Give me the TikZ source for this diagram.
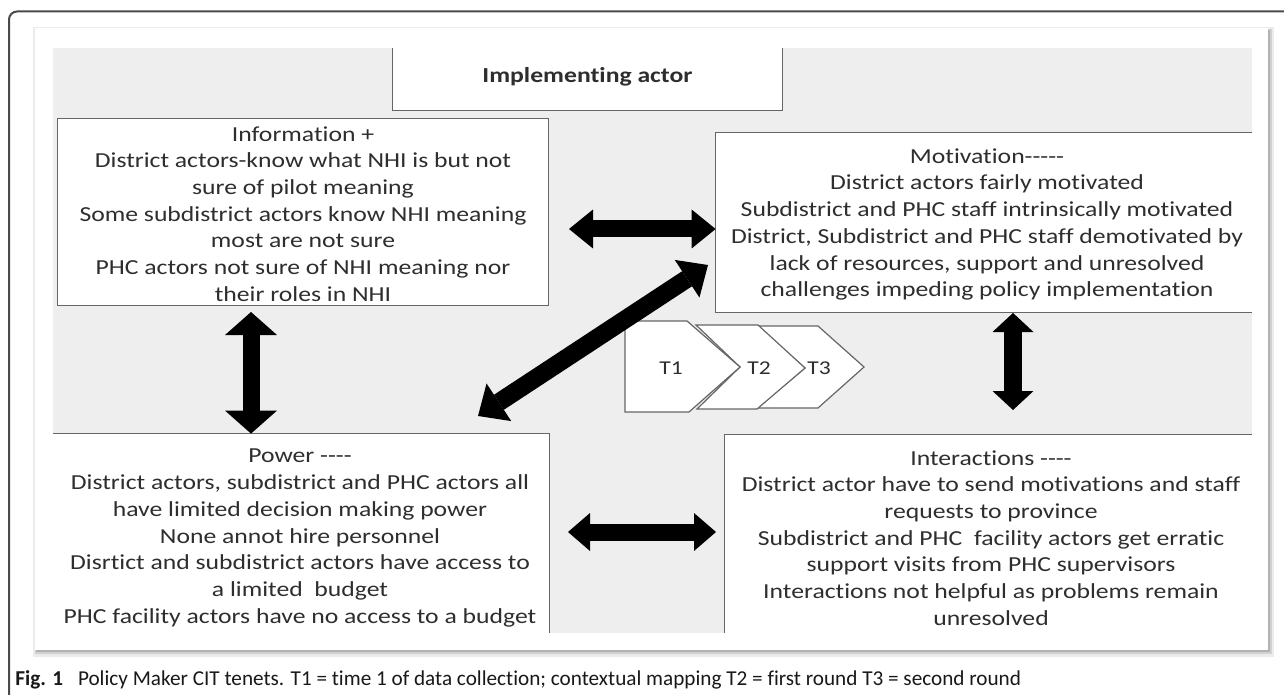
\documentclass[tikz,border=0pt]{standalone}
\usepackage{fontspec}
\setmainfont[Ligatures=NoCommon]{Carlito}
\newfontfamily\boxfont[FakeStretch=1.2,Ligatures=NoCommon]{Carlito}
\usetikzlibrary{arrows.meta}
\newcommand\hh{-\kern0pt}
\definecolor{panelgrey}{HTML}{EEEEEE}
\definecolor{edgecol}{HTML}{666666}
\definecolor{txtcol}{HTML}{2E2E2E}
\definecolor{framecol}{HTML}{4A4A4A}
\tikzset{
  boxtext/.style={font=\boxfont\fontsize{10.7pt}{13.35pt}\selectfont, text=txtcol, align=center, inner sep=0pt},
  boxshape/.style={fill=white, inner sep=0pt},
  edgeline/.style={draw=edgecol, line width=0.8pt},
  chev/.style={draw=edgecol, fill=white, line width=0.6pt, line join=miter},
  chevlabel/.style={font=\boxfont\fontsize{9.8pt}{12pt}\selectfont, text=txtcol, inner sep=0pt},
  dblarrow/.style n args={3}{draw=black, line width=#1,
    {Triangle[width=#2,length=#3,line width=0pt]}-{Triangle[width=#2,length=#3,line width=0pt]}},
}
\begin{document}
\begin{tikzpicture}[x=0.5pt,y=-0.5pt]
\useasboundingbox (0,0) rectangle (1284,695);
\fill[white] (0,0) rectangle (1284,695);
% outer frame
\draw[framecol, line width=1pt, rounded corners=4pt] (9,695) -- (9,11.5) -- (1284,11.5);
% panel with shadow
\fill[black!8] (33,27) rectangle (1274,657);
\fill[black!18] (35,29) rectangle (1272,654);
\fill[black!30] (36,30) rectangle (1270,652);
\fill[white] (35,28) rectangle (1268,650);
% grey area
\fill[panelgrey] (53,48) rectangle (1252,633);
% Implementing actor
\node[boxshape, minimum width=194.5pt, minimum height=31pt] (implbox) at (587.5,79) {};
\draw[edgeline] (implbox.north west) -- (implbox.south west) -- (implbox.south east) -- (implbox.north east);
\node[boxtext] (impl) at (587.5,77) {\bfseries Implementing actor};
% Information
\node[boxshape, minimum width=245pt, minimum height=93pt] (infobox) at (303,212) {};
\draw[edgeline] (infobox.north west) rectangle (infobox.south east);
\node[boxtext] (info) at (303,214)
  {Information +\\District actors-know what NHI is but not\\sure of pilot meaning\\Some subdistrict actors know NHI meaning\\most are not sure\\PHC actors not sure of NHI meaning nor\\their roles in NHI};
% Motivation
\node[boxshape, minimum width=268pt, minimum height=89.5pt] (motivbox) at (984,222.5) {};
\draw[edgeline] (motivbox.north east) -- (motivbox.north west) -- (motivbox.south west) -- (motivbox.south east);
\node[boxtext] (motiv) at (987,224.5)
  {Motivation\hh\hh\hh\hh-\\District actors fairly motivated\\Subdistrict and PHC staff intrinsically motivated\\District, Subdistrict and PHC staff demotivated by\\lack of resources, support and unresolved\\challenges impeding policy implementation};
% Power
\node[boxshape, minimum width=248pt, minimum height=99.5pt] (powerbox) at (301,533.5) {};
\draw[edgeline] (powerbox.north west) -- (powerbox.north east) -- (powerbox.south east);
\node[boxtext] (power) at (300,538)
  {Power \hh\hh\hh-\\District actors, subdistrict and PHC actors all\\have limited decision making power\\None annot hire personnel\\Disrtict and subdistrict actors have access to\\a limited\ \ budget\\PHC facility actors have no access to a budget};
% Interactions
\node[boxshape, minimum width=263.5pt, minimum height=99pt] (interbox) at (988.5,534) {};
\draw[edgeline] (interbox.north east) -- (interbox.north west) -- (interbox.south west);
\node[boxtext] (inter) at (991,538)
  {Interactions \hh\hh\hh-\\District actor have to send motivations and staff\\requests to province\\Subdistrict and PHC\ \ facility actors get erratic\\support visits from PHC supervisors\\Interactions not helpful as problems remain\\unresolved};
% chevrons T3, T2, T1
\draw[chev] (757,326) -- (818,326) -- (864,367) -- (818,408) -- (757,408) -- (805,368) -- cycle;
\draw[chev] (696,325) -- (758,325) -- (805,368) -- (757,409) -- (697,409) -- (740,367) -- cycle;
\draw[chev] (625,321) -- (687,321) -- (740,367) -- (689,412) -- (625,412) -- cycle;
\node[chevlabel] (t1) at (671,368) {T1};
\node[chevlabel] (t2) at (759,368) {T2};
\node[chevlabel] (t3) at (819,368) {T3};
% arrows
\coordinate (ta) at (569,229);
\draw[dblarrow={8.5pt}{19.5pt}{12pt}] (ta) -- (ta -| motivbox.west);
\coordinate (la1) at (251,312);
\draw[dblarrow={8.5pt}{26pt}{11.5pt}] (la1) -- (la1 |- powerbox.north);
\coordinate (ra1) at (1013,313);
\coordinate (ra2) at (1013,410);
\draw[dblarrow={9pt}{20.5pt}{9.5pt}] (ra1) -- (ra2);
\coordinate (ba1) at (568,532);
\coordinate (ba2) at (716,532);
\draw[dblarrow={8.5pt}{19pt}{11pt}] (ba1) -- (ba2);
\coordinate (da1) at (478,416);
\coordinate (da2) at (708,265);
\draw[dblarrow={9pt}{22.5pt}{12.5pt}] (da1) -- (da2);
% caption
\node[anchor=west, inner sep=0pt, text=black!90, font=\fontsize{10.6pt}{12pt}\selectfont] (cap) at (15,680)
  {\textbf{Fig. 1}\hspace{0.7em}Policy Maker CIT tenets. T1 = time 1 of data collection; contextual mapping T2 = first round T3 = second round};
\end{tikzpicture}
\end{document}
